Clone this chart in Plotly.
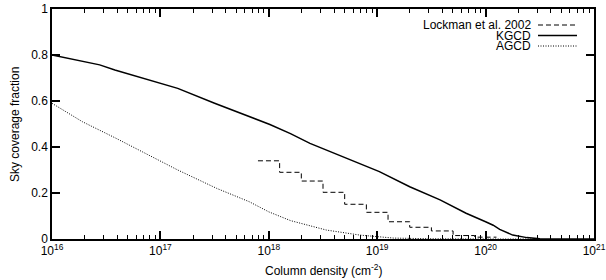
import plotly.graph_objects as go

# log10 column density (cm^-2) and sky coverage fraction
kgcd_logN = [16.0, 16.44, 16.58, 17.0, 17.16, 17.5, 18.01, 18.2, 18.38, 19.02, 19.3, 19.58, 19.82, 20.0, 20.07, 20.13, 20.25, 20.38, 20.5, 21.0]
kgcd_frac = [0.80, 0.757, 0.735, 0.678, 0.655, 0.59, 0.498, 0.458, 0.416, 0.293, 0.227, 0.17, 0.112, 0.075, 0.06, 0.042, 0.017, 0.006, 0.001, 0.0]

agcd_logN = [16.0, 16.28, 16.59, 16.99, 17.16, 17.52, 17.82, 18.0, 18.2, 18.53, 18.84, 19.15, 19.5, 20.0, 20.5]
agcd_frac = [0.59, 0.51, 0.438, 0.343, 0.30, 0.22, 0.162, 0.118, 0.08, 0.039, 0.017, 0.004, 0.001, 0.0, 0.0]

lockman_logN = [17.9, 18.1, 18.3, 18.5, 18.7, 18.9, 19.1, 19.3, 19.5, 19.7, 19.9, 20.1]
lockman_frac = [0.34, 0.29, 0.252, 0.203, 0.151, 0.116, 0.075, 0.051, 0.035, 0.015, 0.008, 0.008]

x_tick_exps = [16, 17, 18, 19, 20, 21]
y_ticks = [0, 0.2, 0.4, 0.6, 0.8, 1]
y_tick_labels = ["0", "0.2", "0.4", "0.6", "0.8", "1"]

legend_names = ["Lockman et al. 2002", "KGCD", "AGCD"]

FONT = "Liberation Sans, Arial, sans-serif"

def tolin(v):
    return [10.0 ** a for a in v]

fig = go.Figure()
fig.add_trace(go.Scatter(x=tolin(lockman_logN), y=lockman_frac, mode="lines", line_shape="hv",
                         line=dict(color="black", width=1, dash="5px,3px"), showlegend=False))
fig.add_trace(go.Scatter(x=tolin(kgcd_logN), y=kgcd_frac, mode="lines",
                         line=dict(color="black", width=1.5), showlegend=False))
fig.add_trace(go.Scatter(x=tolin(agcd_logN), y=agcd_frac, mode="lines",
                         line=dict(color="black", width=1, dash="1px,1.5px"), showlegend=False))

minor_vals = []
for e in x_tick_exps[:-1]:
    for m in range(2, 10):
        minor_vals.append(float(m) * 10.0 ** e)

W, H = 606, 280
ml, mr, mt, mb = 52, 12, 9, 41
pw, ph = W - ml - mr, H - mt - mb

fig.update_xaxes(type="log", range=[16, 21], showline=True, linecolor="black", linewidth=1.5,
                 mirror="ticks", ticks="inside", ticklen=8, tickwidth=1.5, tickcolor="black",
                 tickmode="array", tickvals=[10.0 ** e for e in x_tick_exps],
                 ticktext=["10<sup>%d</sup>" % e for e in x_tick_exps],
                 minor=dict(ticks="inside", ticklen=4, tickwidth=1, tickcolor="black", tickvals=minor_vals),
                 showgrid=False, zeroline=False, automargin=False,
                 tickfont=dict(family=FONT, size=12, color="black"))
fig.update_yaxes(range=[0, 1], showline=True, linecolor="black", linewidth=1.5,
                 mirror="ticks", ticks="inside", ticklen=8, tickwidth=1.5, tickcolor="black",
                 tickmode="array", tickvals=y_ticks, ticktext=y_tick_labels,
                 showgrid=False, zeroline=False, automargin=False,
                 tickfont=dict(family=FONT, size=12, color="black"))

def px(x):
    return (x - ml) / pw
def py(y):
    return 1 - (y - mt) / ph

# axis titles
fig.add_annotation(x=px(323), y=py(270), xref="paper", yref="paper", text="Column density (cm<sup>-2</sup>)",
                   showarrow=False, xanchor="center", yanchor="middle", font=dict(family=FONT, size=12, color="black"))
fig.add_annotation(x=px(15), y=py(125), xref="paper", yref="paper", text="Sky coverage fraction", textangle=-90,
                   showarrow=False, xanchor="center", yanchor="middle", font=dict(family=FONT, size=12, color="black"))

# manual legend (text right-aligned, sample to the right)
legend_y = [25, 35.5, 46]
dashes = ["5px,3px", "solid", "1px,1.5px"]
widths = [1, 1.5, 1]
for name, yy, d, w in zip(legend_names, legend_y, dashes, widths):
    fig.add_annotation(x=px(532), y=py(yy), xref="paper", yref="paper", text=name, showarrow=False,
                       xanchor="right", yanchor="middle", font=dict(family=FONT, size=12, color="black"),
                       borderpad=0)
    fig.add_shape(type="line", xref="paper", yref="paper", x0=px(538), x1=px(577), y0=py(yy), y1=py(yy),
                  line=dict(color="black", width=w, dash=d))

fig.update_layout(width=W, height=H, margin=dict(l=ml, r=mr, t=mt, b=mb, autoexpand=False),
                  paper_bgcolor="white", plot_bgcolor="white", showlegend=False)
fig.write_html("out.html", config={"displayModeBar": False},
               post_script="document.body.style.margin='0';")
